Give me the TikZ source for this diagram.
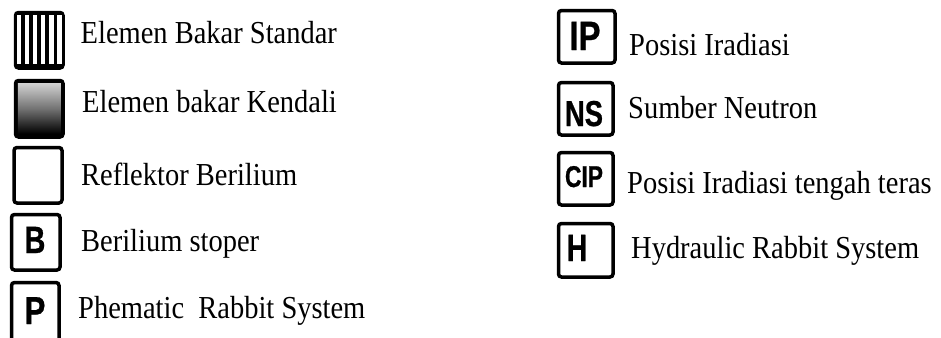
\documentclass[tikz,border=0pt]{standalone}
\usepackage{fontspec}
\usetikzlibrary{calc}
\setmainfont{Liberation Serif}
\newfontfamily\legfont{Liberation Serif}[FakeStretch=0.89]
\newfontfamily\keyfont{Liberation Sans}[UprightFont={* Bold}, UprightFeatures={FakeBold=0.8}]
\tikzset{
  x=1bp, y=-1bp,
  keybox/.style={draw=black, line width=3.5bp, rounded corners=3bp, fill=white,
    minimum width=47bp, minimum height=55bp, inner sep=0pt, anchor=north west},
  keytext/.style={anchor=base, inner sep=0pt, text=black},
  legtext/.style={anchor=base west, inner sep=0pt, text=black,
    font=\legfont\fontsize{32bp}{33bp}\selectfont},
}
\newcommand{\keylbl}[3]{{\keyfont\fontsize{#1bp}{#1bp}\selectfont\scalebox{#2}[1]{#3}}}
\begin{document}
\begin{tikzpicture}
\useasboundingbox (0,0) rectangle (941,337);
\begin{scope}
\clip (0,0) rectangle (941,337);

% standard fuel element: vertical stripes
\node[keybox, fill=black, minimum width=47.5bp, minimum height=55.5bp] (std) at (13.75,10.75) {};
\foreach \i in {0,...,5}
  \fill[white] ($(std.north west)+(3.2+\i*8.1,4)$) rectangle ++(4.2,49);

% control fuel element: grey to black gradient
\node[keybox, fill=black, minimum width=47.5bp, minimum height=56.5bp] (ctl) at (13.75,78.75) {};
\shade[top color=black!18, bottom color=black, middle color=black!55]
  ($(ctl.north west)+(4,4.5)$) rectangle ($(ctl.south east)+(-4,-5)$);

% beryllium reflector: plain box
\node[keybox, minimum width=48bp, minimum height=55.5bp] (ref) at (12.25,145.75) {};

% lettered boxes, left column
\node[keybox, minimum width=48.5bp, minimum height=55.5bp] (bs) at (9.75,212.75) {};
\node[keytext] at (35,253) {\keylbl{38}{0.76}{B}};
\node[keybox, minimum width=47.5bp, minimum height=70bp] (pr) at (9.75,280.75) {};
\node[keytext] at (35,324) {\keylbl{39}{0.8}{P}};

% lettered boxes, right column
\node[keybox, minimum width=56.5bp, minimum height=52.5bp] (ip) at (556.75,8.75) {};
\node[keytext] at (585,50) {\keylbl{41}{0.8}{IP}};
\node[keybox, minimum width=54.5bp, minimum height=52.5bp] (ns) at (556.75,80.75) {};
\node[keytext] at (584,126) {\keylbl{36}{0.76}{NS}};
\node[keybox, minimum width=54.5bp, minimum height=52.5bp] (cip) at (556.75,150.75) {};
\node[keytext] at (584,187) {\keylbl{30}{0.76}{CIP}};
\node[keybox, minimum width=54.5bp, minimum height=53.5bp] (hr) at (556.75,221.75) {};
\node[keytext] at (577,261) {\keylbl{38}{0.74}{H}};

% labels
\node[legtext] (t1) at (80.5,43.5) {Elemen Bakar Standar};
\node[legtext] (t2) at (82,112) {Elemen bakar Kendali};
\node[legtext] (t3) at (81,185) {Reflektor Berilium};
\node[legtext] (t4) at (81,251) {Berilium stoper};
\node[legtext] (t5) at (78,318) {Phematic\ \ Rabbit System};
\node[legtext] (t6) at (629,55) {Posisi Iradiasi};
\node[legtext] (t7) at (628,118) {Sumber Neutron};
\node[legtext] (t8) at (627,193) {Posisi Iradiasi tengah teras};
\node[legtext] (t9) at (631,258) {Hydraulic Rabbit System};
\end{scope}
\end{tikzpicture}
\end{document}
